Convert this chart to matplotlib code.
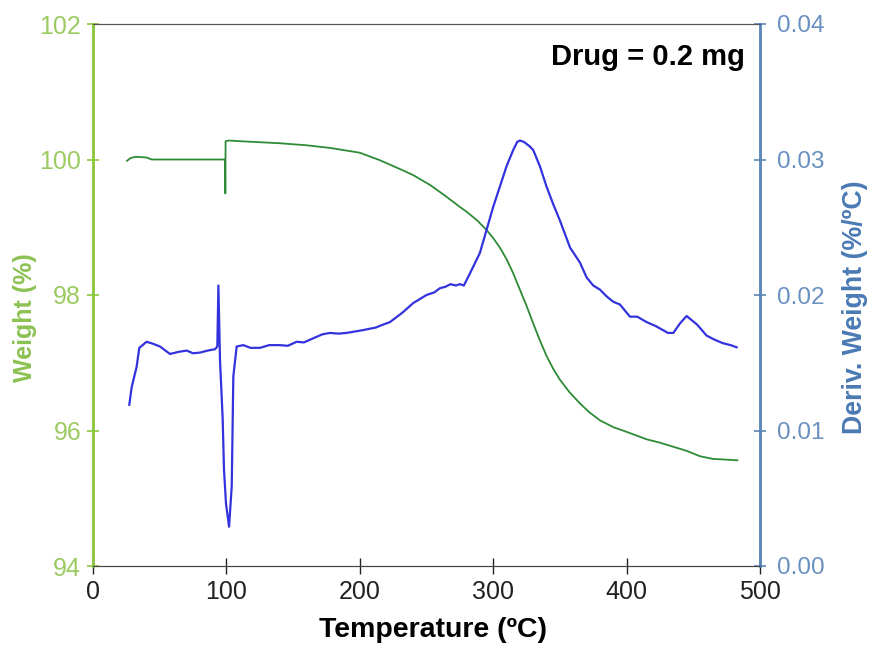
import numpy as np
import matplotlib.pyplot as plt

# TGA weight curve (left axis)
tga_temp = [25.5, 28, 32, 40, 44, 60, 80, 99.0, 99.2, 99.4, 102, 110, 120, 140, 160, 178,
            200, 215, 230, 240, 253, 265, 275, 280, 288, 295, 300, 305, 310, 315, 320,
            325, 330, 335, 340, 345, 350, 357, 365, 372, 380, 390, 400, 415, 425, 435,
            445, 455, 465, 475, 483]
tga_weight = [99.98, 100.02, 100.04, 100.03, 100.0, 100.0, 100.0, 100.0, 99.5, 100.27,
              100.28, 100.27, 100.26, 100.24, 100.21, 100.17, 100.10, 99.99, 99.86, 99.77,
              99.62, 99.45, 99.30, 99.23, 99.10, 98.96, 98.84, 98.70, 98.53, 98.32, 98.08,
              97.84, 97.58, 97.33, 97.10, 96.91, 96.75, 96.57, 96.40, 96.27, 96.15, 96.05,
              95.98, 95.87, 95.82, 95.76, 95.70, 95.62, 95.58, 95.57, 95.56]

# DTG derivative curve (right axis)
dtg_temp = [27.2, 29, 32.7, 34.7, 40.2, 45, 50.2, 57.7, 64, 70.2, 75, 80.2, 86, 91.5, 93.2,
            94, 95.2, 97.2, 98.2, 99.7, 102, 104, 105.2, 107.7, 112.7, 118, 125.2, 132,
            140, 146, 152.7, 158, 165, 172, 177.7, 184, 190, 196, 202, 207, 212, 217,
            222.6, 232, 240, 250, 256, 260, 264, 268, 272, 275, 278, 282.6, 290, 295,
            300, 305, 310, 315, 318, 320, 323, 327, 330, 335, 340, 345, 350, 357.6, 365,
            370, 375, 380, 385, 390, 395, 402.5, 408, 415, 422, 431, 435, 440, 445, 453,
            460, 466, 472, 478, 482.5]
dtg_deriv = [0.0119, 0.0132, 0.0147, 0.0161, 0.01655, 0.0164, 0.0162, 0.01565, 0.0158,
             0.0159, 0.0157, 0.01575, 0.0159, 0.0160, 0.0162, 0.0207, 0.0152, 0.0109,
             0.0071, 0.0046, 0.0029, 0.0059, 0.0140, 0.0162, 0.0163, 0.0161, 0.0161,
             0.0163, 0.0163, 0.01625, 0.01655, 0.0165, 0.0168, 0.0171, 0.0172, 0.01715,
             0.0172, 0.0173, 0.0174, 0.0175, 0.0176, 0.0178, 0.0180, 0.0187, 0.0194,
             0.0200, 0.0202, 0.0205, 0.0206, 0.0208, 0.0207, 0.0208, 0.0207, 0.0216,
             0.0231, 0.0248, 0.0265, 0.0280, 0.0295, 0.0307, 0.0313, 0.0314, 0.0313,
             0.0310, 0.0307, 0.0295, 0.0280, 0.0267, 0.0255, 0.0235, 0.0224, 0.0213,
             0.0207, 0.0204, 0.0199, 0.0195, 0.0193, 0.0184, 0.0184, 0.0180, 0.0177,
             0.0172, 0.0172, 0.0179, 0.01845, 0.0178, 0.0170, 0.0167, 0.01645, 0.0163,
             0.01614]

x_ticks = [0, 100, 200, 300, 400, 500]
left_ticks = [94, 96, 98, 100, 102]
right_ticks = [0.00, 0.01, 0.02, 0.03, 0.04]

green_axis = '#8cc63e'
blue_axis = '#5a86b8'

plt.rcParams['font.family'] = ['Liberation Sans', 'DejaVu Sans']

fig = plt.figure(figsize=(8.72, 6.45), dpi=100)
ax = fig.add_axes([93/872, 1-566/645, (760-93)/872, (566-24)/645])
ax2 = ax.twinx()

ax.plot(tga_temp, tga_weight, color='#2e8b36', lw=1.3)
ax2.plot(dtg_temp, dtg_deriv, color='#3333dd', lw=1.6)

ax.set_xlim(0, 500)
ax.set_ylim(94, 102)
ax2.set_ylim(0.0, 0.04)
ax.set_xticks(x_ticks)
ax.set_yticks(left_ticks)
ax2.set_yticks(right_ticks)
ax2.set_yticklabels(['%.2f' % v for v in right_ticks])

ax.tick_params(axis='x', direction='inout', length=12, width=1, pad=4,
               labelsize=18, colors='#222222')
ax.tick_params(axis='y', direction='inout', length=9, width=1.2, pad=4,
               labelsize=18, colors=green_axis, labelcolor='#9ccb62')
ax2.tick_params(axis='y', direction='inout', length=9, width=1.2, pad=8,
                labelsize=17.5, colors=blue_axis, labelcolor='#6a90c0')

for a in (ax, ax2):
    a.spines['left'].set_color(green_axis)
    a.spines['left'].set_linewidth(1.8)
    a.spines['right'].set_color(blue_axis)
    a.spines['right'].set_linewidth(1.8)
    a.spines['top'].set_color('#555555')
    a.spines['bottom'].set_color('#444444')

ax.set_xlabel('Temperature (ºC)', fontsize=20.5, fontweight='bold')
ax.xaxis.set_label_coords(0.51, -0.094)
ax.set_ylabel('Weight (%)', fontsize=18, fontweight='bold', color='#8cc152')
ax.yaxis.set_label_coords(-0.102, 0.459)
ax.yaxis.label.set_va('center')
ax2.set_ylabel('Deriv. Weight (%/ºC)', fontsize=19.3, fontweight='bold', color='#4a7ab4')
ax2.yaxis.set_label_coords(1.142, 0.478)
ax2.yaxis.label.set_va('center')

ax.text(0.9775, 0.94, 'Drug = 0.2 mg', transform=ax.transAxes, ha='right', va='center',
        fontsize=21, fontweight='bold')

fig.savefig('out.png', dpi=100)
